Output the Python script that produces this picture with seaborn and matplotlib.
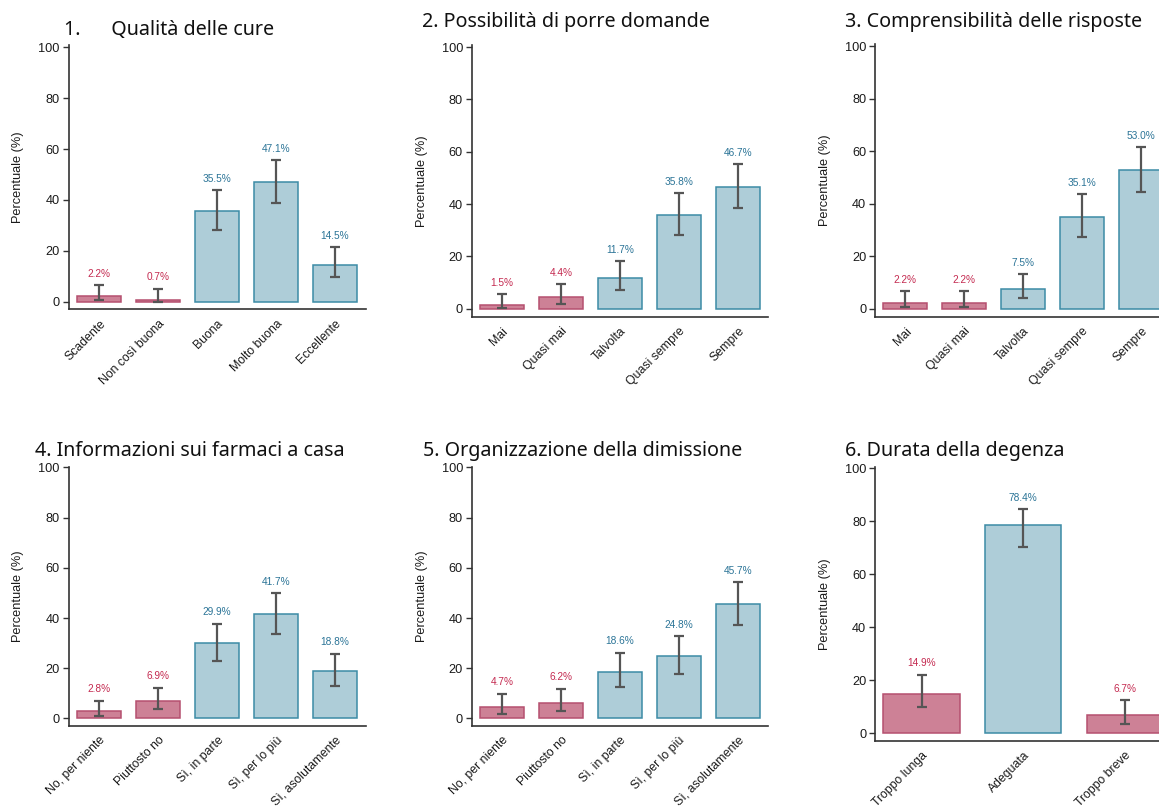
import matplotlib
matplotlib.use("Agg")
import matplotlib.pyplot as plt
import seaborn as sns
import numpy as np

# ---------------- data ----------------
titles = ["1.      Qualità delle cure", "2. Possibilità di porre domande",
          "3. Comprensibilità delle risposte", "4. Informazioni sui farmaci a casa",
          "5. Organizzazione della dimissione", "6. Durata della degenza"]

cats1 = ["Scadente", "Non così buona", "Buona", "Molto buona", "Eccellente"]
vals1 = [2.2, 0.7, 35.5, 47.1, 14.5]
lo1 = [0.8, 0.0, 28.0, 38.9, 9.7]
hi1 = [6.6, 5.1, 43.9, 55.6, 21.5]
neg1 = [True, True, False, False, False]

cats2 = ["Mai", "Quasi mai", "Talvolta", "Quasi sempre", "Sempre"]
vals2 = [1.5, 4.4, 11.7, 35.8, 46.7]
lo2 = [0.4, 1.9, 7.1, 28.1, 38.4]
hi2 = [5.6, 9.4, 18.2, 44.3, 55.2]
neg2 = [True, True, False, False, False]

cats3 = ["Mai", "Quasi mai", "Talvolta", "Quasi sempre", "Sempre"]
vals3 = [2.2, 2.2, 7.5, 35.1, 53.0]
lo3 = [0.8, 0.8, 4.1, 27.4, 44.4]
hi3 = [6.8, 6.8, 13.3, 43.6, 61.5]
neg3 = [True, True, False, False, False]

cats4 = ["No, per niente", "Piuttosto no", "Sì, in parte", "Sì, per lo più", "Sì, asolutamente"]
vals4 = [2.8, 6.9, 29.9, 41.7, 18.8]
lo4 = [1.1, 3.7, 22.9, 33.7, 13.0]
hi4 = [7.1, 12.3, 37.8, 49.8, 25.8]
neg4 = [True, True, False, False, False]

cats5 = ["No, per niente", "Piuttosto no", "Sì, in parte", "Sì, per lo più", "Sì, asolutamente"]
vals5 = [4.7, 6.2, 18.6, 24.8, 45.7]
lo5 = [1.9, 2.9, 12.7, 17.9, 37.2]
hi5 = [9.9, 11.9, 26.2, 32.9, 54.4]
neg5 = [True, True, False, False, False]

cats6 = ["Troppo lunga", "Adeguata", "Troppo breve"]
vals6 = [14.9, 78.4, 6.7]
lo6 = [9.8, 70.3, 3.5]
hi6 = [22.0, 84.5, 12.5]
neg6 = [True, False, True]

yticks = [0, 20, 40, 60, 80, 100]

# ---------------- style ----------------
W, H = 1159, 808
DPI = 100
sns.set_style("white")
plt.rcParams["font.family"] = ["Liberation Sans", "DejaVu Sans"]

RED_FILL, RED_EDGE, RED_TXT = "#cd8196", "#b5506f", "#c42a50"
BLUE_FILL, BLUE_EDGE, BLUE_TXT = "#aecdd8", "#3c8ba6", "#2b7497"
ERR = "#555555"

fig = plt.figure(figsize=(W / DPI, H / DPI), dpi=DPI)


def px_axes(x0, y_top, x1, y_bot):
    return fig.add_axes([x0 / W, 1 - y_bot / H, (x1 - x0) / W, (y_bot - y_top) / H])


# axes boxes in pixel coordinates (left, top, right, bottom), x-limits, y-limits
panels = [
    (cats1, vals1, lo1, hi1, neg1, (68.7, 45, 365.7, 309.3), (-0.52, 4.52), (-3.0, 100.9)),
    (cats2, vals2, lo2, hi2, neg2, (472, 45, 768, 316.7), (-0.51, 4.51), (-3.0, 100.8)),
    (cats3, vals3, lo3, hi3, neg3, (875.3, 44.3, 1171.3, 316.7), (-0.51, 4.51), (-3.0, 100.8)),
    (cats4, vals4, lo4, hi4, neg4, (68.7, 466.7, 365.7, 726), (-0.52, 4.52), (-3.0, 100.3)),
    (cats5, vals5, lo5, hi5, neg5, (472, 466.7, 768, 726), (-0.51, 4.51), (-3.0, 100.3)),
    (cats6, vals6, lo6, hi6, neg6, (875.3, 466.7, 1171.3, 741), (-0.455, 2.455), (-3.0, 100.5)),
]

for (cats, vals, lo, hi, neg, box, xl, yl) in panels:
    ax = px_axes(*box)
    fills = [RED_FILL if n else BLUE_FILL for n in neg]
    edges = [RED_EDGE if n else BLUE_EDGE for n in neg]
    txtc = [RED_TXT if n else BLUE_TXT for n in neg]
    sns.barplot(x=cats, y=vals, hue=cats, palette=fills, legend=False,
                width=0.75, ax=ax, errorbar=None, saturation=1)
    for p, ec in zip(ax.patches, edges):
        p.set_edgecolor(ec)
        p.set_linewidth(1.1)
    xs = np.arange(len(cats))
    v = np.array(vals)
    yerr = np.vstack([v - np.array(lo), np.array(hi) - v])
    ax.errorbar(xs, v, yerr=yerr, fmt="none", ecolor=ERR, elinewidth=1.6,
                capsize=3.8, capthick=1.6, zorder=5)
    for x, h, c, t in zip(xs, hi, txtc, vals):
        ax.annotate(f"{t:.1f}%", (x, h), xytext=(0, 4.5), textcoords="offset points",
                    ha="center", va="bottom", fontsize=7.3, color=c)
    ax.set_xlim(*xl)
    ax.set_ylim(*yl)
    ax.set_yticks(yticks)
    ax.set_yticklabels([str(t) for t in yticks], fontsize=9.2, color="#1a1a1a")
    ax.set_xticks(xs)
    ax.set_xticklabels(cats, rotation=45, ha="right", va="top",
                       rotation_mode="anchor", fontsize=8.8, color="#1a1a1a")
    ax.tick_params(axis="y", length=4.5, width=1, color="#333333", pad=2, left=True)
    ax.tick_params(axis="x", length=0, pad=6, bottom=False)
    ax.set_ylabel("Percentuale (%)", fontsize=9.2, color="#1a1a1a", labelpad=10)
    ax.set_xlabel("")
    sns.despine(ax=ax)
    for s in ("left", "bottom"):
        ax.spines[s].set_color("#333333")
        ax.spines[s].set_linewidth(1.2)

# titles (pixel positions: left x, baseline y)
title_pos = [(64, 35), (421.7, 26.7), (845, 26.7), (35, 456), (422.7, 456), (845, 456)]
for t, (x, y) in zip(titles, title_pos):
    fig.text(x / W, 1 - y / H, t, ha="left", va="baseline",
             fontsize=14.2, color="#111111", family=["Noto Sans", "DejaVu Sans"])

fig.savefig("out.png", dpi=DPI)
